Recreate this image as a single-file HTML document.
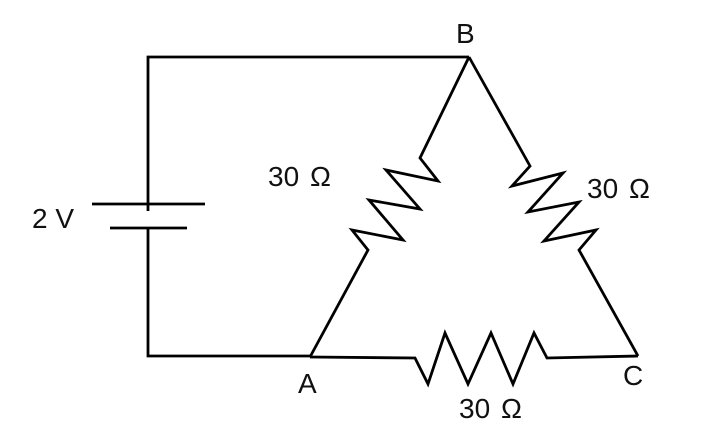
<!DOCTYPE html>
<html><head><style>body{margin:0;background:#fff}svg{display:block}text{font-family:"Liberation Sans",sans-serif;font-size:28px;fill:#111}</style></head>
<body><svg width="706" height="438" viewBox="0 0 706 438">
<g fill="none" stroke="#000" stroke-width="2.8" stroke-linejoin="miter">
<polyline points="148,211 148,57 469,57"/>
<polyline points="148,228 148,356 310,356"/>
<line x1="92" y1="204" x2="205" y2="204"/>
<line x1="110" y1="228" x2="187" y2="228"/>
<polyline points="469,57 420,158 438,181 386,170 420,209 369,200 403,240 352,230 368,250 310,357"/>
<polyline points="469,57 530,166 512,186 563,173 528,212 579,202 544,241 596,230 579,250 638,356"/>
<polyline points="310,357 415,358 428,384 445,333 468,384 491,333 513,384 534,333 547,358 638,356"/>
</g>
<text x="456" y="43">B</text>
<text x="298" y="393">A</text>
<text x="623" y="385">C</text>
<text x="268" y="186">30</text><text x="310" y="186">Ω</text>
<text x="587" y="198">30</text><text x="629" y="198">Ω</text>
<text x="459" y="418">30</text><text x="501" y="418">Ω</text>
<text x="32" y="228">2 V</text>
</svg></body></html>
